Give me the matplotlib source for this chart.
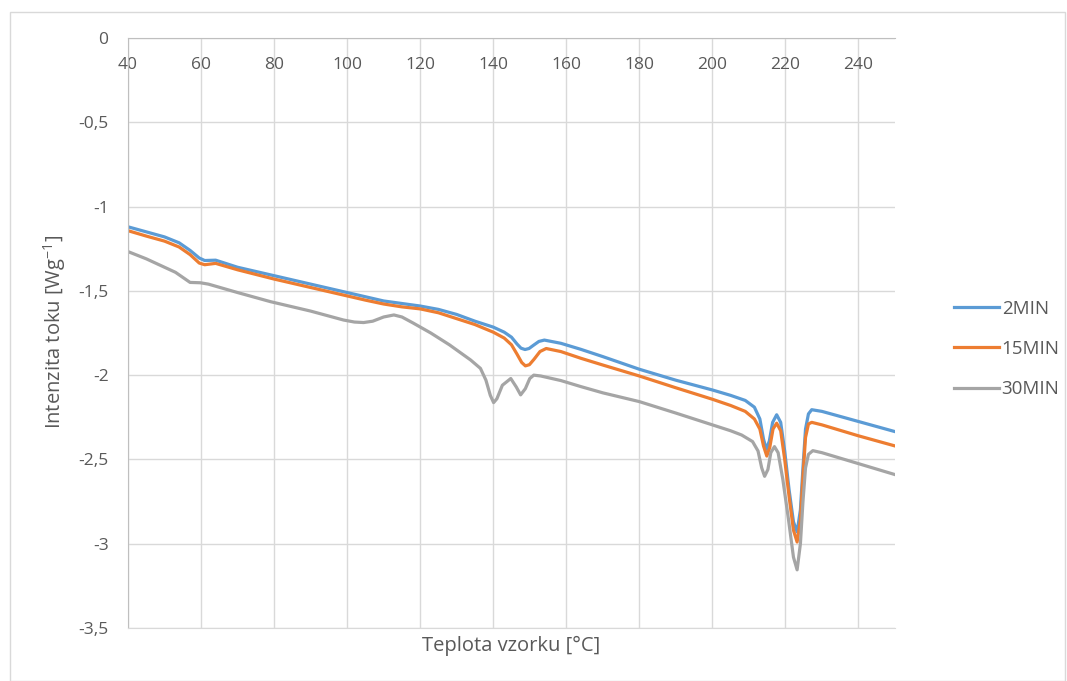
import matplotlib.pyplot as plt
from matplotlib.patches import Rectangle

plt.rcParams["font.family"] = ["Open Sans", "DejaVu Sans"]
plt.rcParams["mathtext.fontset"] = "custom"
plt.rcParams["mathtext.rm"] = "Open Sans"
plt.rcParams["mathtext.it"] = "Open Sans"

# values (temperature in degC, heat flow in W/g)
t_2min = [40, 45, 50, 54, 57, 59.5, 61, 64, 70, 80, 90, 100, 105, 110, 115, 120, 125, 130,
          135, 140, 143, 145, 146.5, 147.6, 148.7, 149.8, 151, 152.5, 154, 158.5, 164, 170,
          180, 190, 200, 205, 209, 211.5, 213, 214, 214.8, 215.6, 216.5, 217.6, 218.7, 219.8,
          221, 222.2, 223.2, 224.1, 224.8, 225.5, 226.3, 227.2, 230, 240, 250]
v_2min = [-1.12, -1.15, -1.18, -1.215, -1.26, -1.305, -1.32, -1.318, -1.36, -1.41, -1.46,
          -1.51, -1.535, -1.56, -1.575, -1.59, -1.61, -1.64, -1.68, -1.715, -1.745, -1.775,
          -1.815, -1.84, -1.848, -1.842, -1.823, -1.80, -1.792, -1.811, -1.847, -1.89, -1.965,
          -2.03, -2.088, -2.12, -2.15, -2.19, -2.26, -2.38, -2.44, -2.39, -2.28, -2.235, -2.28,
          -2.45, -2.68, -2.87, -2.93, -2.80, -2.55, -2.32, -2.23, -2.205, -2.215, -2.275,
          -2.335]

t_15min = [40, 45, 50, 54, 57, 59.5, 61, 64, 70, 80, 90, 100, 105, 110, 115, 120, 125, 130,
           135, 140, 143, 145, 146.5, 147.8, 148.8, 149.9, 151.2, 152.8, 154.5, 158.5, 164, 170,
           180, 190, 200, 205, 209, 211.5, 213, 214, 214.9, 215.7, 216.6, 217.6, 218.7, 219.8,
           221, 222.2, 223.2, 224.1, 224.8, 225.5, 226.3, 227.2, 230, 240, 250]
v_15min = [-1.143, -1.175, -1.205, -1.24, -1.285, -1.335, -1.345, -1.337, -1.375, -1.43, -1.48,
           -1.53, -1.555, -1.578, -1.595, -1.607, -1.63, -1.665, -1.70, -1.745, -1.78, -1.82,
           -1.875, -1.925, -1.945, -1.938, -1.905, -1.86, -1.842, -1.86, -1.90, -1.94, -2.005,
           -2.075, -2.143, -2.18, -2.215, -2.26, -2.32, -2.42, -2.48, -2.43, -2.32, -2.285,
           -2.33, -2.50, -2.72, -2.92, -2.99, -2.86, -2.60, -2.37, -2.29, -2.28, -2.295, -2.36,
           -2.42]

t_30min = [40, 45, 50, 53, 55, 57, 59.8, 62, 70, 79, 90, 99, 102, 104.5, 107, 110, 112.8, 115,
           118, 122.9, 128, 133.8, 136.5, 138, 139.2, 140.1, 141, 142.5, 144.8, 146.3, 147.5,
           148.8, 150, 151.1, 153, 158.5, 164, 170, 180, 190, 200, 205, 208, 211, 212.5, 213.5,
           214.3, 215.2, 216, 217, 218, 219.3, 220.8, 222.2, 223.2, 224.1, 224.8, 225.5, 226.3,
           227.5, 230, 240, 250]
v_30min = [-1.267, -1.31, -1.36, -1.39, -1.42, -1.45, -1.452, -1.46, -1.51, -1.564, -1.62,
           -1.673, -1.685, -1.688, -1.68, -1.655, -1.643, -1.655, -1.69, -1.75, -1.82, -1.91,
           -1.96, -2.03, -2.12, -2.163, -2.14, -2.06, -2.02, -2.07, -2.117, -2.08, -2.02, -2.0,
           -2.005, -2.032, -2.068, -2.105, -2.157, -2.225, -2.295, -2.33, -2.355, -2.394, -2.45,
           -2.55, -2.60, -2.56, -2.46, -2.424, -2.46, -2.62, -2.85, -3.08, -3.155, -3.0, -2.75,
           -2.55, -2.47, -2.448, -2.46, -2.525, -2.59]

x_ticks = [40, 60, 80, 100, 120, 140, 160, 180, 200, 220, 240]
y_ticks = [0, -0.5, -1, -1.5, -2, -2.5, -3, -3.5]
y_tick_labels = ["0", "-0,5", "-1", "-1,5", "-2", "-2,5", "-3", "-3,5"]

text_col = "#595959"
grid_col = "#d9d9d9"

fig = plt.figure(figsize=(10.67, 6.81), dpi=100)
fig.patches.append(Rectangle((10 / 1067, 0), 1055 / 1067, 1 - 12 / 681, transform=fig.transFigure,
                             fill=False, edgecolor=grid_col, linewidth=1))
ax = fig.add_axes([128 / 1067, 1 - 628 / 681, 767 / 1067, 590 / 681])

ax.plot(t_2min, v_2min, color="#5B9BD5", lw=2.3, label="2MIN")
ax.plot(t_15min, v_15min, color="#ED7D31", lw=2.3, label="15MIN")
ax.plot(t_30min, v_30min, color="#A5A5A5", lw=2.3, label="30MIN")

ax.set_xlim(40, 250)
ax.set_ylim(-3.5, 0)
ax.set_xticks(x_ticks)
ax.set_yticks(y_ticks)
ax.set_yticklabels(y_tick_labels)
ax.grid(True, color=grid_col, lw=1)
ax.set_axisbelow(True)

ax.xaxis.set_ticks_position("top")
ax.tick_params(axis="x", labeltop=True, labelbottom=False, length=0, pad=-25,
               labelsize=12.5, labelcolor=text_col)
ax.tick_params(axis="y", length=0, pad=14, labelsize=12.5, labelcolor=text_col)

ax.spines["right"].set_visible(False)
ax.spines["top"].set_color("#bfbfbf")
ax.spines["left"].set_color("#bfbfbf")
ax.spines["bottom"].set_color(grid_col)

fig.text(511 / 1067, 1 - 646 / 681, "Teplota vzorku [°C]", ha="center", va="center",
         fontsize=14.5, color=text_col)
fig.text(55 / 1067, 1 - 332 / 681, r"Intenzita toku [Wg$^{-1}$]", ha="center", va="center",
         rotation=90, fontsize=14.5, color=text_col)

leg = fig.legend(loc="center left", bbox_to_anchor=(937 / 1067, 1 - 349 / 681), frameon=False,
                 fontsize=13.5, handlelength=2.4, handletextpad=0.15, labelspacing=1.2)
for txt in leg.get_texts():
    txt.set_color(text_col)

fig.savefig("out.png", dpi=100)
